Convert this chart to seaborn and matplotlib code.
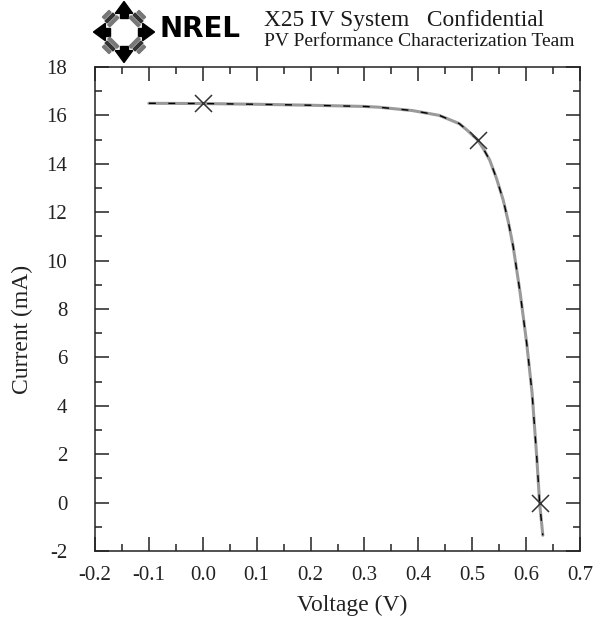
import numpy as np
import matplotlib
matplotlib.use("Agg")
import matplotlib.pyplot as plt
import seaborn as sns
from matplotlib.patches import Polygon

# ----- data -----
voltage = [-0.100, 0.000, 0.100, 0.200, 0.300, 0.326, 0.389, 0.439, 0.476, 0.490,
           0.509, 0.520, 0.5325, 0.545, 0.5575, 0.567, 0.576, 0.589, 0.601, 0.611,
           0.620, 0.625, 0.631]
current = [16.50, 16.49, 16.46, 16.42, 16.37, 16.34, 16.20, 16.00, 15.66, 15.40,
           15.01, 14.65, 14.15, 13.40, 12.50, 11.60, 10.58, 8.66, 6.60, 4.55,
           1.80, 0.00, -1.35]

mark_v = [0.000, 0.510, 0.625]
mark_i = [16.50, 15.00, 0.00]

x_ticks = [-0.2, -0.1, 0.0, 0.1, 0.2, 0.3, 0.4, 0.5, 0.6, 0.7]
y_ticks = [-2, 0, 2, 4, 6, 8, 10, 12, 14, 16, 18]

sns.set_style("ticks")
plt.rcParams["font.family"] = ["Liberation Serif", "DejaVu Serif"]

W, H = 593, 618
fig = plt.figure(figsize=(W / 100, H / 100), dpi=100)
ax = fig.add_axes([95 / W, 1 - 551 / H, 485 / W, 484 / H])

# fitted curve (gray) with the measured trace dashed on top
sns.lineplot(x=voltage, y=current, sort=False, estimator=None, color="#9a9a9a",
             linewidth=2.2, ax=ax)
sns.lineplot(x=voltage, y=current, sort=False, estimator=None, color="black",
             linewidth=1.0, dashes=False, ax=ax)
ax.lines[-1].set_dashes([5, 9])
sns.scatterplot(x=mark_v, y=mark_i, marker="x", s=150, color="#333333",
                linewidth=1.1, ax=ax, zorder=5)

ax.set_xlim(-0.2, 0.7)
ax.set_ylim(-2, 18)
ax.set_xticks(x_ticks)
ax.set_xticklabels([f"{v:.1f}" for v in x_ticks], fontsize=15)
ax.set_yticks(y_ticks)
ax.set_yticklabels([str(v) for v in y_ticks], fontsize=15)
ax.set_xticks(np.arange(-0.15, 0.7, 0.1), minor=True)
ax.set_yticks(np.arange(-1, 18, 2), minor=True)
ax.tick_params(which="both", direction="in", top=True, right=True, width=1.1,
               color="#222222", labelcolor="#222222")
ax.tick_params(which="major", length=10)
ax.tick_params(which="minor", length=5)
ax.tick_params(axis="x", pad=11)
ax.tick_params(axis="y", pad=20)
for s in ax.spines.values():
    s.set_linewidth(1.1)
    s.set_color("#222222")
ax.set_xlabel("Voltage (V)", fontsize=17, color="#222222")
ax.set_ylabel("Current (mA)", fontsize=17, color="#222222")
ax.xaxis.set_label_coords(0.53, -0.091)
ax.yaxis.set_label_coords(-0.128, 0.458)

# ----- header: NREL logo and titles -----
lax = fig.add_axes([92 / W, 1 - 64 / H, 64 / W, 64 / H])
lax.set_xlim(-1.1, 1.1)
lax.set_ylim(-1.1, 1.1)
lax.set_aspect("equal")
lax.axis("off")
for ang in [0, 90, 180, 270]:
    a = np.radians(ang)
    d = np.array([np.cos(a), np.sin(a)])
    p = np.array([-d[1], d[0]])
    tip = d * 1.05
    base = d * 0.64
    tri = [tip, base + p * 0.3, base - p * 0.3]
    lax.add_patch(Polygon(tri, closed=True, color="black"))
    stem = [base + p * 0.13, base + p * 0.13 - d * 0.16,
            base - p * 0.13 - d * 0.16, base - p * 0.13]
    lax.add_patch(Polygon(stem, closed=True, color="black"))
for ang in [45, 135, 225, 315]:
    a = np.radians(ang)
    d = np.array([np.cos(a), np.sin(a)])
    p = np.array([-d[1], d[0]])
    for k, r in enumerate([0.52, 0.68, 0.84]):
        c = d * r
        hw = 0.22 - 0.03 * k
        bar = [c + p * hw + d * 0.05, c - p * hw + d * 0.05,
               c - p * hw - d * 0.05, c + p * hw - d * 0.05]
        lax.add_patch(Polygon(bar, closed=True, color="#333333" if k == 1 else "#777777"))

fig.text(159 / W, 1 - 37 / H, "NREL", fontsize=20, fontweight="bold",
         family="DejaVu Sans", color="black", ha="left", va="baseline")
fig.text(264 / W, 1 - 26 / H, "X25 IV System   Confidential", fontsize=16.8,
         color="#1a1a1a", ha="left", va="baseline")
fig.text(264 / W, 1 - 45.5 / H, "PV Performance Characterization Team", fontsize=14,
         color="#1a1a1a", ha="left", va="baseline")

fig.savefig("out.png", dpi=100, facecolor="white")
